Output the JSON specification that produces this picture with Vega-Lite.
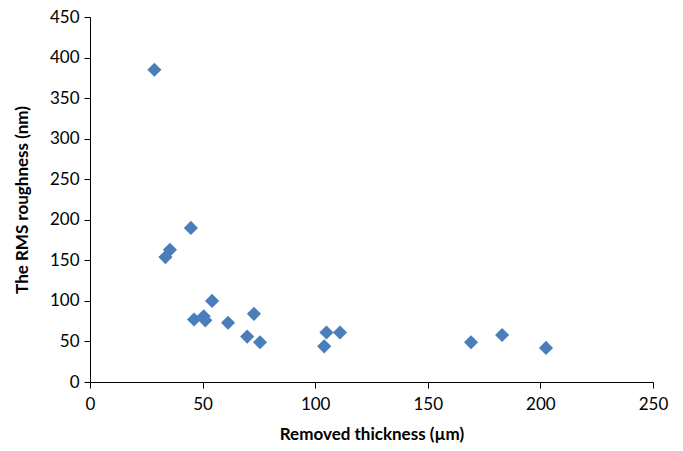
{
  "$schema": "https://vega.github.io/schema/vega-lite/v6.json",
  "autosize": "none",
  "width": 563,
  "height": 365,
  "padding": {"left": 90, "top": 17, "right": 30, "bottom": 69},
  "background": "white",
  "config": {"view": {"stroke": null}, "font": "Lato"},
  "data": {"values": [
    {"t": 28.6, "rms": 385},
    {"t": 44.8, "rms": 190},
    {"t": 35.5, "rms": 163},
    {"t": 33.5, "rms": 154},
    {"t": 54.2, "rms": 100},
    {"t": 46.2, "rms": 77},
    {"t": 50.5, "rms": 81},
    {"t": 51.2, "rms": 76},
    {"t": 61.3, "rms": 73},
    {"t": 72.8, "rms": 84},
    {"t": 69.8, "rms": 56},
    {"t": 75.5, "rms": 49},
    {"t": 105.0, "rms": 61},
    {"t": 104.0, "rms": 44},
    {"t": 111.0, "rms": 61},
    {"t": 169.2, "rms": 49},
    {"t": 183.0, "rms": 58},
    {"t": 202.5, "rms": 42}
  ]},
  "mark": {"type": "point", "shape": "diamond", "filled": true, "size": 200, "color": "#4a7ebb", "opacity": 1},
  "encoding": {
    "x": {
      "field": "t", "type": "quantitative",
      "scale": {"domain": [0, 250], "nice": false, "zero": true},
      "axis": {
        "title": "Removed thickness (µm)", "values": [0, 50, 100, 150, 200, 250],
        "grid": false, "domainColor": "#000", "tickColor": "#000", "tickSize": 6,
        "labelFlush": false,
        "labelFontSize": 17, "labelColor": "#000", "labelPadding": 8,
        "titleFontSize": 17, "titleFontWeight": "bold", "titleColor": "#000", "titlePadding": 14
      }
    },
    "y": {
      "field": "rms", "type": "quantitative",
      "scale": {"domain": [0, 450], "nice": false},
      "axis": {
        "title": "The RMS roughness (nm)", "values": [0, 50, 100, 150, 200, 250, 300, 350, 400, 450],
        "grid": false, "domainColor": "#000", "tickColor": "#000", "tickSize": 6,
        "labelFlush": false,
        "labelFontSize": 17, "labelColor": "#000", "labelPadding": 5,
        "titleFontSize": 17, "titleFontWeight": "bold", "titleColor": "#000", "titlePadding": 18
      }
    }
  }
}
